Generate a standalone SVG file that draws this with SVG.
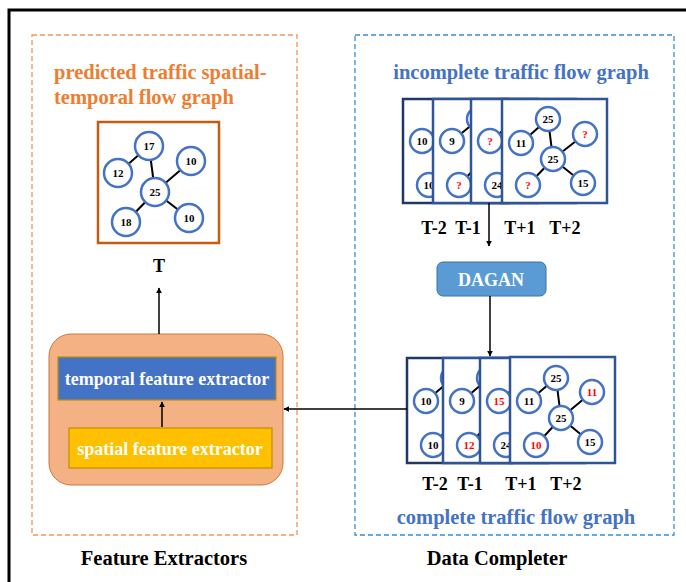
<svg xmlns="http://www.w3.org/2000/svg" width="686" height="582" viewBox="0 0 686 582">
<defs>
<style>
.nd{fill:#fff;stroke:#4472C4;stroke-width:2.5}
.ed{stroke:#000;stroke-width:2}
.nt{font-family:"Liberation Serif",serif;font-weight:bold;font-size:11px;text-anchor:middle;fill:#000}
.red{fill:#FF0000}
.fr{fill:#fff;stroke:#2F5597;stroke-width:2.5}
.fr1{fill:#fff;stroke:#1F3864;stroke-width:2.5}
.ttl{font-family:"Liberation Serif",serif;font-weight:bold;font-size:20.5px}
.lbl{font-family:"Liberation Serif",serif;font-weight:bold;font-size:18px;text-anchor:middle;fill:#000}
.wt{font-family:"Liberation Serif",serif;font-weight:bold;font-size:18px;text-anchor:middle;fill:#fff}
.ar{stroke:#000;stroke-width:1.5;fill:none;marker-end:url(#ah)}
</style>
<marker id="ah" viewBox="0 0 10 10" refX="9" refY="5" markerWidth="6" markerHeight="6" orient="auto" markerUnits="userSpaceOnUse">
<path d="M0,0 L10,5 L0,10 z" fill="#000"/>
</marker>
</defs>
<rect x="0" y="0" width="686" height="582" fill="#fff"/>
<rect x="9" y="10" width="690" height="600" fill="none" stroke="#000" stroke-width="3"/>

<g id="feature-extractors-region">
<rect x="32" y="35" width="265" height="500" fill="none" stroke="#F0965A" stroke-width="1.3" stroke-dasharray="5,3"/>
<text class="ttl" x="54" y="79" fill="#ED7D31">predicted traffic spatial-</text>
<text class="ttl" x="54" y="104" fill="#ED7D31">temporal flow graph</text>
<text class="ttl" x="164" y="565" text-anchor="middle" fill="#000">Feature Extractors</text>
</g>

<g id="data-completer-region">
<rect x="355" y="35" width="319" height="500" fill="none" stroke="#3C8DCB" stroke-width="1.3" stroke-dasharray="5,3"/>
<text class="ttl" x="521" y="79" text-anchor="middle" fill="#4472C4">incomplete traffic flow graph</text>
<text class="ttl" x="516" y="524" text-anchor="middle" fill="#4472C4">complete traffic flow graph</text>
<text class="ttl" x="497" y="565" text-anchor="middle" fill="#000">Data Completer</text>
</g>

<g id="predicted-graph">
<rect x="98" y="122" width="121" height="121" fill="#fff" stroke="#C55A11" stroke-width="2.5"/>
<line class="ed" x1="118" y1="173" x2="149" y2="146"/>
<line class="ed" x1="149" y1="146" x2="155" y2="192"/>
<line class="ed" x1="155" y1="192" x2="191" y2="161"/>
<line class="ed" x1="155" y1="192" x2="126" y2="222"/>
<line class="ed" x1="155" y1="192" x2="189" y2="218"/>
<circle class="nd" cx="149" cy="146" r="14"/><text class="nt" x="149" y="150">17</text>
<circle class="nd" cx="118" cy="173" r="14"/><text class="nt" x="118" y="177">12</text>
<circle class="nd" cx="191" cy="161" r="14"/><text class="nt" x="191" y="165">10</text>
<circle class="nd" cx="155" cy="192" r="14"/><text class="nt" x="155" y="196">25</text>
<circle class="nd" cx="126" cy="222" r="14"/><text class="nt" x="126" y="226">18</text>
<circle class="nd" cx="189" cy="218" r="14"/><text class="nt" x="189" y="222">10</text>
<text class="lbl" x="159" y="272">T</text>
</g>

<g id="feature-extractor-block">
<rect x="49" y="334" width="234" height="151" rx="22" fill="#F4B183" stroke="#C9773E" stroke-width="1"/>
</g>
<g id="temporal-feature-extractor">
<rect x="58" y="357" width="218" height="43" fill="#4472C4" stroke="#BF9000" stroke-width="1.2"/>
<text class="wt" x="167" y="385">temporal feature extractor</text>
</g>
<g id="spatial-feature-extractor">
<rect x="69" y="428" width="203" height="40" fill="#FFC000" stroke="#BF9000" stroke-width="1.2"/>
<text class="wt" x="170" y="455">spatial feature extractor</text>
</g>

<g id="incomplete-graphs">
<g transform="translate(403,99)">
<rect class="fr1" x="0" y="0" width="105" height="104"/>
<line class="ed" x1="19" y1="42" x2="46" y2="20"/><line class="ed" x1="26" y1="86" x2="51" y2="60"/>
<circle class="nd" cx="46" cy="20" r="12"/>
<circle class="nd" cx="19" cy="42" r="12"/><text class="nt" x="19" y="46">10</text>
<circle class="nd" cx="26" cy="86" r="12"/><text class="nt" x="26" y="90">10</text>
</g>
<g transform="translate(433,99)">
<rect class="fr" x="0" y="0" width="105" height="104"/>
<line class="ed" x1="19" y1="42" x2="46" y2="20"/><line class="ed" x1="26" y1="86" x2="51" y2="60"/>
<circle class="nd" cx="46" cy="20" r="12"/>
<circle class="nd" cx="51" cy="60" r="12"/>
<circle class="nd" cx="19" cy="42" r="12"/><text class="nt" x="19" y="46">9</text>
<circle class="nd" cx="26" cy="86" r="12"/><text class="nt red" x="26" y="90">?</text>
</g>
<g transform="translate(471,99)">
<rect class="fr" x="0" y="0" width="105" height="104"/>
<line class="ed" x1="19" y1="42" x2="46" y2="20"/><line class="ed" x1="26" y1="86" x2="51" y2="60"/>
<circle class="nd" cx="46" cy="20" r="12"/>
<circle class="nd" cx="51" cy="60" r="12"/>
<circle class="nd" cx="19" cy="42" r="12"/><text class="nt red" x="19" y="46">?</text>
<circle class="nd" cx="26" cy="86" r="12"/><text class="nt" x="26" y="90">24</text>
</g>
<g transform="translate(502,99)">
<rect class="fr" x="0" y="0" width="105" height="104"/>
<line class="ed" x1="19" y1="44" x2="46" y2="20"/>
<line class="ed" x1="46" y1="20" x2="51" y2="60"/>
<line class="ed" x1="51" y1="60" x2="83" y2="35"/>
<line class="ed" x1="51" y1="60" x2="26" y2="86"/>
<line class="ed" x1="51" y1="60" x2="81" y2="84"/>
<circle class="nd" cx="46" cy="20" r="12"/><text class="nt" x="46" y="24">25</text>
<circle class="nd" cx="19" cy="44" r="12"/><text class="nt" x="19" y="48">11</text>
<circle class="nd" cx="83" cy="35" r="12"/><text class="nt red" x="83" y="39">?</text>
<circle class="nd" cx="51" cy="60" r="12"/><text class="nt" x="51" y="64">25</text>
<circle class="nd" cx="26" cy="86" r="12"/><text class="nt red" x="26" y="90">?</text>
<circle class="nd" cx="81" cy="84" r="12"/><text class="nt" x="81" y="88">15</text>
</g>
<text class="lbl" x="434" y="234">T-2</text>
<text class="lbl" x="468" y="234">T-1</text>
<text class="lbl" x="520" y="234">T+1</text>
<text class="lbl" x="565" y="234">T+2</text>
</g>

<g id="dagan">
<rect x="437" y="262" width="109" height="34" rx="6" fill="#5B9BD5" stroke="#41719C" stroke-width="1"/>
<text class="wt" x="491" y="286" font-size="20.5">DAGAN</text>
</g>

<g id="complete-graphs">
<g transform="translate(407,358)">
<rect class="fr1" x="0" y="0" width="105" height="105"/>
<line class="ed" x1="19" y1="43" x2="46" y2="20"/><line class="ed" x1="26" y1="87" x2="51" y2="60"/>
<circle class="nd" cx="46" cy="20" r="12"/>
<circle class="nd" cx="19" cy="43" r="12"/><text class="nt" x="19" y="47">10</text>
<circle class="nd" cx="26" cy="87" r="12"/><text class="nt" x="26" y="91">10</text>
</g>
<g transform="translate(443,358)">
<rect class="fr" x="0" y="0" width="105" height="105"/>
<line class="ed" x1="19" y1="43" x2="46" y2="20"/><line class="ed" x1="26" y1="87" x2="51" y2="60"/>
<circle class="nd" cx="46" cy="20" r="12"/>
<circle class="nd" cx="51" cy="60" r="12"/>
<circle class="nd" cx="19" cy="43" r="12"/><text class="nt" x="19" y="47">9</text>
<circle class="nd" cx="26" cy="87" r="12"/><text class="nt red" x="26" y="91">12</text>
</g>
<g transform="translate(480,358)">
<rect class="fr" x="0" y="0" width="105" height="105"/>
<line class="ed" x1="19" y1="43" x2="46" y2="20"/><line class="ed" x1="26" y1="87" x2="51" y2="60"/>
<circle class="nd" cx="46" cy="20" r="12"/>
<circle class="nd" cx="51" cy="60" r="12"/>
<circle class="nd" cx="19" cy="43" r="12"/><text class="nt red" x="19" y="47">15</text>
<circle class="nd" cx="26" cy="87" r="12"/><text class="nt" x="26" y="91">24</text>
</g>
<g transform="translate(510,357)">
<rect class="fr" x="0" y="0" width="105" height="106"/>
<line class="ed" x1="19" y1="44" x2="46" y2="21"/>
<line class="ed" x1="46" y1="21" x2="51" y2="61"/>
<line class="ed" x1="51" y1="61" x2="82" y2="35"/>
<line class="ed" x1="51" y1="61" x2="26" y2="88"/>
<line class="ed" x1="51" y1="61" x2="80" y2="85"/>
<circle class="nd" cx="46" cy="21" r="12"/><text class="nt" x="46" y="25">25</text>
<circle class="nd" cx="19" cy="44" r="12"/><text class="nt" x="19" y="48">11</text>
<circle class="nd" cx="82" cy="35" r="12"/><text class="nt red" x="82" y="39">11</text>
<circle class="nd" cx="51" cy="61" r="12"/><text class="nt" x="51" y="65">25</text>
<circle class="nd" cx="26" cy="88" r="12"/><text class="nt red" x="26" y="92">10</text>
<circle class="nd" cx="80" cy="85" r="12"/><text class="nt" x="80" y="89">15</text>
</g>
<text class="lbl" x="435" y="490">T-2</text>
<text class="lbl" x="470" y="490">T-1</text>
<text class="lbl" x="521" y="490">T+1</text>
<text class="lbl" x="566" y="490">T+2</text>
</g>

<g id="connectors">
<line class="ar" x1="159" y1="334" x2="159" y2="288"/>
<line class="ar" x1="162" y1="427" x2="162" y2="402"/>
<line class="ar" x1="489" y1="203" x2="489" y2="246"/>
<line class="ar" x1="490" y1="296" x2="490" y2="356"/>
<line class="ar" x1="407" y1="409" x2="284" y2="409"/>
</g>
</svg>
